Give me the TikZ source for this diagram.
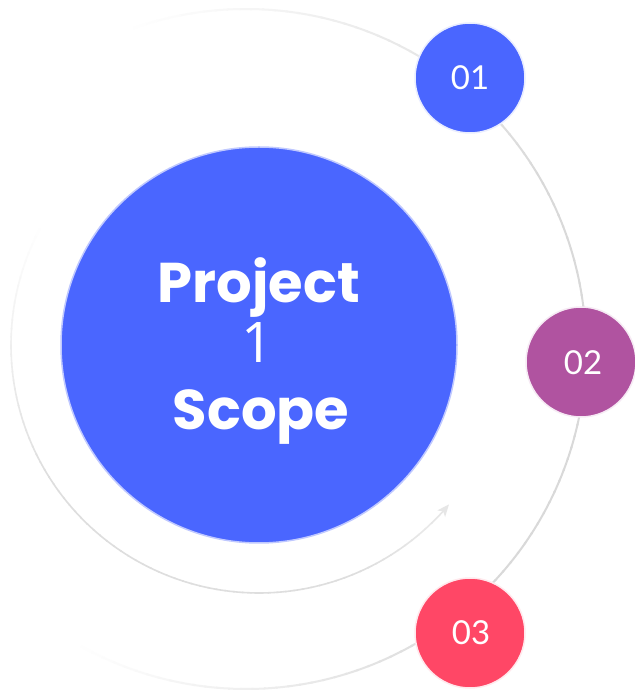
\documentclass[tikz,border=0pt]{standalone}
\usepackage{fontspec}
\setmainfont{Poppins}
\newfontfamily\numfont{Lato}
\newfontfamily\onefont{Open Sans}
\usetikzlibrary{arrows.meta}
\definecolor{mainblue}{HTML}{4A66FF}
\definecolor{purp}{HTML}{B053A0}
\definecolor{redp}{HTML}{FF4766}
\definecolor{arcgray}{HTML}{D9D9D9}
\definecolor{innergray}{HTML}{DEDEDE}
\tikzset{
  bigcirc/.style={circle, fill=mainblue, draw=mainblue!35!white, line width=1.5pt, minimum size=396pt, inner sep=0pt},
  smallcirc/.style={circle, line width=1.5pt, minimum size=110pt, inner sep=0pt},
  numtext/.style={text=white, anchor=base, font=\numfont\fontsize{33}{33}\selectfont},
  titletext/.style={text=white, anchor=base, font=\bfseries\fontsize{56}{56}\selectfont},
}
\begin{document}
\begin{tikzpicture}[x=1pt,y=1pt]
\useasboundingbox (0,0) rectangle (634,690);
\fill[white] (0,0) rectangle (634,690);
% outer arc (fading at both ends)
\foreach \a in {-121,-119,...,107} {
  \pgfmathtruncatemacro\p{100*min(1,(\a+121)/70,(109-\a)/80)}
  \draw[color=arcgray!\p!white, line width=2pt, line cap=butt] (246,341) ++(\a:340) arc[start angle=\a, end angle=\a+2.3, radius=340];
}
% inner arc with arrow
\foreach \a in {152,154,...,312} {
  \pgfmathtruncatemacro\p{100*min(1,(\a-150)/60,0.55+(320-\a)/60)}
  \draw[color=innergray!\p!white, line width=1.6pt, line cap=butt] (259,345) ++(\a:248) arc[start angle=\a, end angle=\a+2.3, radius=248];
}
\draw[color=innergray!75!white, line width=1.6pt, -{Stealth[length=12pt,width=10pt,inset=3pt]}] (259,345) ++(314:248) arc[start angle=314, end angle=320, radius=248];
% circles
\node[bigcirc] (main) at (259,345) {};
\node[smallcirc, fill=mainblue, draw=mainblue!12!white] (c1) at (470,612) {};
\node[smallcirc, fill=purp, draw=purp!12!white] (c2) at (581,328) {};
\node[smallcirc, fill=redp, draw=redp!12!white] (c3) at (470,57) {};
% texts
\node[titletext] (t1) at (259,387) {Project};
\node[text=white, anchor=base, font=\onefont\fontsize{56}{56}\selectfont] (t2) at (258,327) {1};
\node[titletext] (t3) at (261,260) {Scope};
\node[numtext] (n1) at (470,600) {01};
\node[numtext] (n2) at (583,315) {02};
\node[numtext] (n3) at (471,45) {03};
\end{tikzpicture}
\end{document}
